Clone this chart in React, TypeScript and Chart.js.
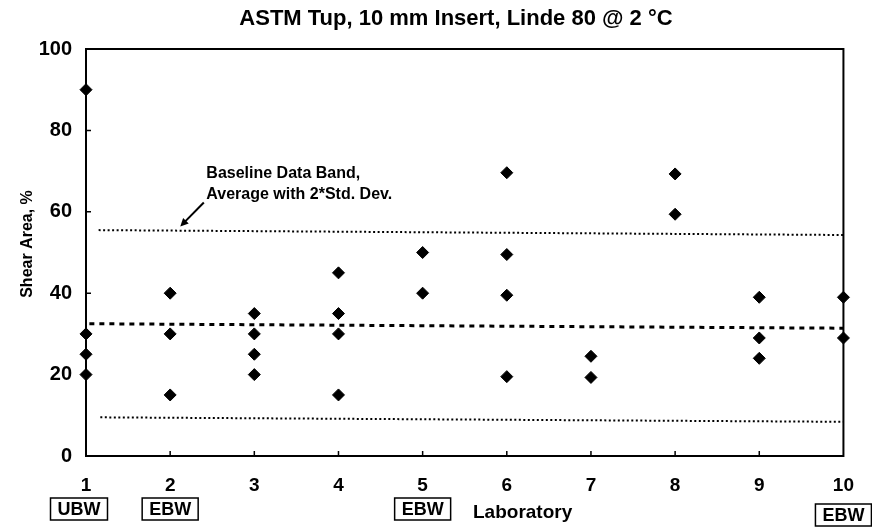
import React, { useEffect, useRef } from "react";
import { Chart, registerables } from "chart.js";

Chart.register(...registerables);

// ---- data ----
const laboratories = [1, 2, 3, 4, 5, 6, 7, 8, 9, 10];
const lab1Shear = [90, 30, 25, 20];
const lab2Shear = [40, 30, 15];
const lab3Shear = [35, 30, 25, 20];
const lab4Shear = [45, 35, 30, 15];
const lab5Shear = [50, 40];
const lab6Shear = [69.6, 49.5, 39.5, 19.5];
const lab7Shear = [24.5, 19.3];
const lab8Shear = [69.3, 59.4];
const lab9Shear = [39, 29, 24];
const lab10Shear = [39, 29];
const shearByLab = [lab1Shear, lab2Shear, lab3Shear, lab4Shear, lab5Shear, lab6Shear, lab7Shear, lab8Shear, lab9Shear, lab10Shear];

const upperBandX = [1.15, 10];
const upperBandY = [55.5, 54.3];
const averageX = [1.04, 10];
const averageY = [32.5, 31.4];
const lowerBandX = [1.17, 10];
const lowerBandY = [9.5, 8.4];

const yTicks = [0, 20, 40, 60, 80, 100];
const xTicks = laboratories;

const processLabs = [1, 2, 5, 10];
const processTexts = ["UBW", "EBW", "EBW", "EBW"];

const titleText = "ASTM Tup, 10 mm Insert, Linde 80 @ 2 °C";
const yTitle = "Shear Area, %";
const xTitle = "Laboratory";
const noteLines = ["Baseline Data Band,", "Average with 2*Std. Dev."];
const noteAnchor = { x: 2.43, y: 69.3 };
const arrowFrom = { x: 2.4, y: 62.3 };
const arrowTo = { x: 2.12, y: 56.4 };

const FONT = "'Liberation Sans', Arial, sans-serif";

const points = laboratories.flatMap((lab, i) => shearByLab[i].map((v) => ({ x: lab, y: v })));
const toPts = (xs: number[], ys: number[]) => xs.map((x, i) => ({ x, y: ys[i] }));

const decorPlugin = {
  id: "decor",
  beforeDatasetsDraw(chart: any) {
    const { ctx, chartArea: a } = chart;
    const xs = chart.scales.x;
    const ys = chart.scales.y;
    ctx.save();
    ctx.strokeStyle = "#000";
    ctx.lineWidth = 2;
    ctx.strokeRect(a.left, a.top, a.right - a.left, a.bottom - a.top);
    ctx.lineWidth = 1.5;
    ctx.beginPath();
    xTicks.forEach((t) => {
      if (t === 1 || t === 10) return;
      const px = xs.getPixelForValue(t);
      ctx.moveTo(px, a.bottom);
      ctx.lineTo(px, a.bottom - 5);
    });
    yTicks.forEach((t) => {
      if (t === 0 || t === 100) return;
      const py = ys.getPixelForValue(t);
      ctx.moveTo(a.left, py);
      ctx.lineTo(a.left + 5, py);
    });
    ctx.stroke();
    ctx.restore();
  },
  afterDraw(chart: any) {
    const { ctx } = chart;
    const xs = chart.scales.x;
    const ys = chart.scales.y;
    ctx.save();
    ctx.fillStyle = "#000";
    ctx.strokeStyle = "#000";
    // title
    ctx.font = `bold 22px ${FONT}`;
    ctx.textAlign = "center";
    ctx.textBaseline = "middle";
    ctx.fillText(titleText, 456, 19);
    // y title
    ctx.save();
    ctx.translate(28, 244);
    ctx.rotate(-Math.PI / 2);
    ctx.font = `bold 16px ${FONT}`;
    ctx.fillText(yTitle, 0, 0);
    ctx.restore();
    // note
    ctx.font = `bold 16px ${FONT}`;
    ctx.textAlign = "left";
    const nx = xs.getPixelForValue(noteAnchor.x);
    const ny = ys.getPixelForValue(noteAnchor.y);
    noteLines.forEach((l, i) => ctx.fillText(l, nx, ny + i * 21));
    // arrow
    const x1 = xs.getPixelForValue(arrowFrom.x);
    const y1 = ys.getPixelForValue(arrowFrom.y);
    const x2 = xs.getPixelForValue(arrowTo.x);
    const y2 = ys.getPixelForValue(arrowTo.y);
    const ang = Math.atan2(y2 - y1, x2 - x1);
    ctx.lineWidth = 2;
    ctx.beginPath();
    ctx.moveTo(x1, y1);
    ctx.lineTo(x2 - 5 * Math.cos(ang), y2 - 5 * Math.sin(ang));
    ctx.stroke();
    ctx.beginPath();
    ctx.moveTo(x2, y2);
    ctx.lineTo(x2 - 9 * Math.cos(ang - 0.45), y2 - 9 * Math.sin(ang - 0.45));
    ctx.lineTo(x2 - 9 * Math.cos(ang + 0.45), y2 - 9 * Math.sin(ang + 0.45));
    ctx.closePath();
    ctx.fill();
    // process boxes
    ctx.font = `bold 18px ${FONT}`;
    ctx.textAlign = "center";
    ctx.lineWidth = 1.5;
    processLabs.forEach((lab, i) => {
      const cx = xs.getPixelForValue(lab) - (lab === 1 ? 7 : 0);
      const cy = lab === 10 ? 515 : 509;
      const w = ctx.measureText(processTexts[i]).width + 14;
      const h = 22;
      ctx.strokeRect(cx - w / 2, cy - h / 2, w, h);
      ctx.fillText(processTexts[i], cx, cy + 1);
    });
    // x title
    ctx.font = `bold 19px ${FONT}`;
    ctx.textAlign = "left";
    ctx.fillText(xTitle, 473, 513);
    ctx.restore();
  },
};

export default function App() {
  const ref = useRef<HTMLCanvasElement>(null);
  useEffect(() => {
    document.body.style.margin = "0";
    if (!ref.current) return;
    const lineDs = (label: string, data: any[], dash: number[], width: number) => ({
      type: "line" as const,
      label,
      data,
      borderColor: "#000",
      borderWidth: width,
      borderDash: dash,
      pointRadius: 0,
      showLine: true,
      fill: false,
    });
    const chart = new Chart(ref.current, {
      type: "scatter",
      data: {
        datasets: [
          lineDs("Upper", toPts(upperBandX, upperBandY), [2, 2.5], 2),
          lineDs("Average", toPts(averageX, averageY), [5, 5], 3),
          lineDs("Lower", toPts(lowerBandX, lowerBandY), [2, 2.5], 2),
          {
            label: "Shear Area",
            data: points,
            pointStyle: "rectRot",
            pointRadius: 6,
            backgroundColor: "#000",
            borderColor: "#000",
            borderWidth: 1,
            clip: false as any,
          },
        ],
      },
      options: {
        responsive: false,
        animation: false,
        layout: { padding: { top: 49, right: 24, left: 0, bottom: 0 } },
        plugins: { legend: { display: false }, tooltip: { enabled: false }, title: { display: false } },
        scales: {
          x: {
            type: "linear",
            min: 1,
            max: 10,
            afterBuildTicks: (s: any) => {
              s.ticks = xTicks.map((v) => ({ value: v }));
            },
            ticks: { autoSkip: false, maxRotation: 0, padding: 18, color: "#000", font: { size: 19, weight: "bold", family: FONT } },
            grid: { display: false, drawTicks: false },
            border: { display: false },
            afterFit: (s: any) => {
              s.height = 75;
            },
          },
          y: {
            min: 0,
            max: 100,
            afterBuildTicks: (s: any) => {
              s.ticks = yTicks.map((v) => ({ value: v }));
            },
            ticks: { padding: 14, color: "#000", font: { size: 20, weight: "bold", family: FONT } },
            grid: { display: false, drawTicks: false },
            border: { display: false },
            afterFit: (s: any) => {
              s.width = 86;
            },
          },
        },
      } as any,
      plugins: [decorPlugin],
    });
    return () => chart.destroy();
  }, []);
  return (
    <div style={{ width: 872, height: 531, background: "#fff" }}>
      <canvas ref={ref} width={872} height={531} style={{ display: "block" }} />
    </div>
  );
}
